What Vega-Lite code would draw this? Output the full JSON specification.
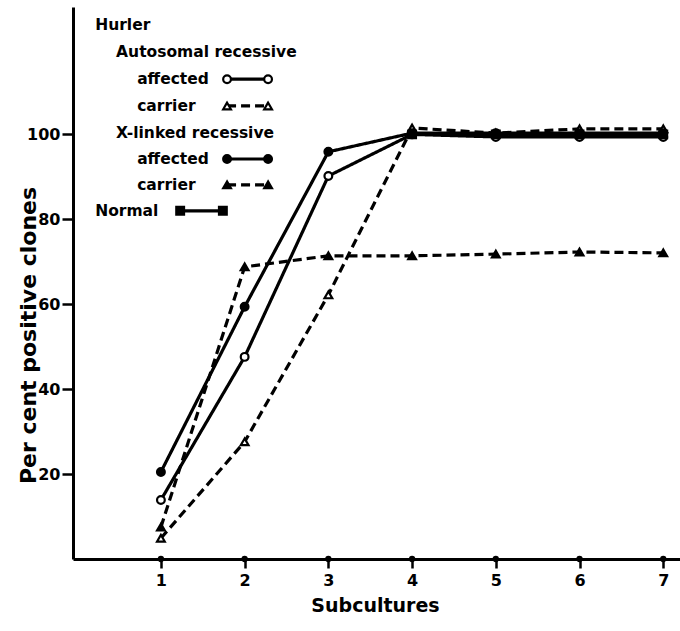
{
  "$schema": "https://vega.github.io/schema/vega-lite/v6.json",
  "width": 607,
  "height": 552,
  "autosize": {"type": "none"},
  "padding": {"left": 73, "top": 7, "right": 0, "bottom": 72},
  "background": "white",
  "config": {
    "view": {"stroke": null},
    "font": "DejaVu Sans",
    "axis": {"grid": false, "domainColor": "black", "domainWidth": 3, "tickColor": "black", "tickWidth": 2.5, "labelColor": "black", "labelFont": "DejaVu Sans", "labelFontWeight": "bold", "labelFontSize": 16, "titleFont": "DejaVu Sans", "titleFontWeight": "bold", "titleColor": "black"}
  },
  "datasets": {
    "curves": [
      {"series": "A_aff", "sub": 1, "pct": 13.9},
      {"series": "A_aff", "sub": 2, "pct": 47.6},
      {"series": "A_aff", "sub": 3, "pct": 90.2},
      {"series": "A_aff", "sub": 4, "pct": 100},
      {"series": "A_aff", "sub": 5, "pct": 99.4},
      {"series": "A_aff", "sub": 6, "pct": 99.4},
      {"series": "A_aff", "sub": 7, "pct": 99.4},
      {"series": "A_car", "sub": 1, "pct": 4.9},
      {"series": "A_car", "sub": 2, "pct": 27.6},
      {"series": "A_car", "sub": 3, "pct": 62.2},
      {"series": "A_car", "sub": 4, "pct": 101.5},
      {"series": "A_car", "sub": 5, "pct": 100.3},
      {"series": "A_car", "sub": 6, "pct": 101.3},
      {"series": "A_car", "sub": 7, "pct": 101.3},
      {"series": "X_aff", "sub": 1, "pct": 20.5},
      {"series": "X_aff", "sub": 2, "pct": 59.4},
      {"series": "X_aff", "sub": 3, "pct": 95.9},
      {"series": "X_aff", "sub": 4, "pct": 100.3},
      {"series": "X_aff", "sub": 5, "pct": 100.3},
      {"series": "X_aff", "sub": 6, "pct": 100.3},
      {"series": "X_aff", "sub": 7, "pct": 100.3},
      {"series": "X_car", "sub": 1, "pct": 7.5},
      {"series": "X_car", "sub": 2, "pct": 68.8},
      {"series": "X_car", "sub": 3, "pct": 71.4},
      {"series": "X_car", "sub": 4, "pct": 71.4},
      {"series": "X_car", "sub": 5, "pct": 71.8},
      {"series": "X_car", "sub": 6, "pct": 72.3},
      {"series": "X_car", "sub": 7, "pct": 72.1},
      {"series": "Normal", "sub": 4, "pct": 100},
      {"series": "Normal", "sub": 5, "pct": 100},
      {"series": "Normal", "sub": 6, "pct": 100},
      {"series": "Normal", "sub": 7, "pct": 100}
    ],
    "legendText": [
      {"label": "Hurler", "lx": 0.215, "ly": 125.8},
      {"label": "Autosomal recessive", "lx": 0.465, "ly": 119.4},
      {"label": "affected", "lx": 0.716, "ly": 113.0},
      {"label": "carrier", "lx": 0.716, "ly": 106.7},
      {"label": "X-linked recessive", "lx": 0.465, "ly": 100.3},
      {"label": "affected", "lx": 0.716, "ly": 94.2},
      {"label": "carrier", "lx": 0.716, "ly": 88.1},
      {"label": "Normal", "lx": 0.215, "ly": 82.0}
    ],
    "legendKeys": [
      {"series": "A_aff", "lx": 1.79, "ly": 113.0},
      {"series": "A_aff", "lx": 2.28, "ly": 113.0},
      {"series": "A_car", "lx": 1.79, "ly": 106.7},
      {"series": "A_car", "lx": 2.28, "ly": 106.7},
      {"series": "X_aff", "lx": 1.79, "ly": 94.2},
      {"series": "X_aff", "lx": 2.28, "ly": 94.2},
      {"series": "X_car", "lx": 1.79, "ly": 88.1},
      {"series": "X_car", "lx": 2.28, "ly": 88.1},
      {"series": "Normal", "lx": 1.23, "ly": 82.0},
      {"series": "Normal", "lx": 1.74, "ly": 82.0}
    ],
    "ticksX": [
      {"sub": 1, "pct": 0}, {"sub": 2, "pct": 0}, {"sub": 3, "pct": 0}, {"sub": 4, "pct": 0},
      {"sub": 5, "pct": 0}, {"sub": 6, "pct": 0}, {"sub": 7, "pct": 0}
    ]
  },
  "layer": [
    {
      "data": {"name": "curves"},
      "mark": {"type": "line", "color": "black", "strokeWidth": 3.2},
      "encoding": {
        "x": {"field": "sub", "type": "quantitative", "scale": {"domain": [-0.05, 7.2], "nice": false, "zero": false},
              "axis": {"values": [1, 2, 3, 4, 5, 6, 7], "format": "d", "tickSize": 9, "labelPadding": 4, "title": "Subcultures", "titleFontSize": 19, "titlePadding": 8, "titleX": 302}},
        "y": {"field": "pct", "type": "quantitative", "scale": {"domain": [0, 130], "nice": false},
              "axis": {"values": [20, 40, 60, 80, 100], "format": "d", "tickSize": 11, "labelPadding": 2, "title": "Per cent positive clones", "titleFontSize": 22, "titleX": -33, "titleY": 328, "titleBaseline": "bottom", "titleAngle": -90}},
        "strokeDash": {"field": "series", "type": "nominal", "legend": null,
                       "scale": {"domain": ["A_aff", "A_car", "X_aff", "X_car", "Normal"], "range": [[1, 0], [9, 5], [1, 0], [9, 5], [1, 0]]}}
      }
    },
    {
      "data": {"name": "legendKeys"},
      "mark": {"type": "line", "color": "black", "strokeWidth": 3.2},
      "encoding": {
        "x": {"field": "lx", "type": "quantitative"},
        "y": {"field": "ly", "type": "quantitative"},
        "strokeDash": {"field": "series", "type": "nominal", "legend": null}
      }
    },
    {
      "data": {"name": "curves"},
      "mark": {"type": "point", "filled": true, "stroke": "black", "strokeWidth": 2.2, "size": 60, "opacity": 1},
      "encoding": {
        "x": {"field": "sub", "type": "quantitative"},
        "y": {"field": "pct", "type": "quantitative"},
        "shape": {"field": "series", "type": "nominal", "legend": null,
                  "scale": {"domain": ["A_aff", "A_car", "X_aff", "X_car", "Normal"], "range": ["circle", "triangle-up", "circle", "triangle-up", "square"]}},
        "fill": {"field": "series", "type": "nominal", "legend": null,
                 "scale": {"domain": ["A_aff", "A_car", "X_aff", "X_car", "Normal"], "range": ["white", "white", "black", "black", "black"]}}
      }
    },
    {
      "data": {"name": "legendKeys"},
      "mark": {"type": "point", "filled": true, "stroke": "black", "strokeWidth": 2.2, "size": 60, "opacity": 1},
      "encoding": {
        "x": {"field": "lx", "type": "quantitative"},
        "y": {"field": "ly", "type": "quantitative"},
        "shape": {"field": "series", "type": "nominal", "legend": null},
        "fill": {"field": "series", "type": "nominal", "legend": null}
      }
    },
    {
      "data": {"name": "ticksX"},
      "mark": {"type": "point", "filled": true, "color": "black", "size": 40, "opacity": 1},
      "encoding": {
        "x": {"field": "sub", "type": "quantitative"},
        "y": {"field": "pct", "type": "quantitative"}
      }
    },
    {
      "data": {"name": "legendText"},
      "mark": {"type": "text", "align": "left", "baseline": "middle", "font": "DejaVu Sans", "fontWeight": "bold", "fontSize": 15.5, "color": "black"},
      "encoding": {
        "x": {"field": "lx", "type": "quantitative"},
        "y": {"field": "ly", "type": "quantitative"},
        "text": {"field": "label", "type": "nominal"}
      }
    }
  ]
}
